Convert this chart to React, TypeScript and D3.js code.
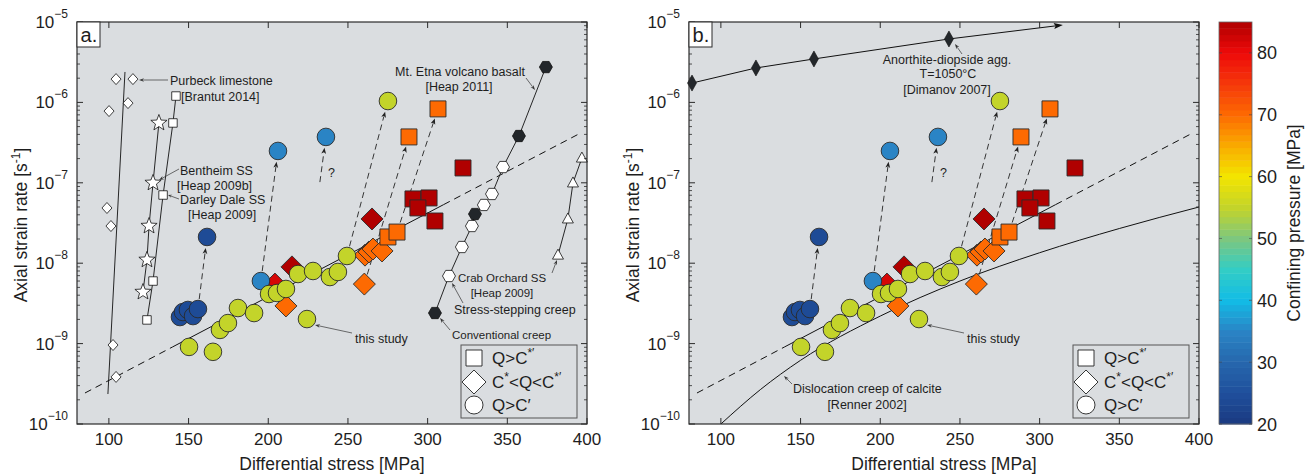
import React from 'react';
import * as d3 from 'd3';

// ---------- axes / ticks ----------
const X_DOMAIN: [number, number] = [80, 400];
const Y_DOMAIN: [number, number] = [1e-10, 1e-5];
const xTicks = [100, 150, 200, 250, 300, 350, 400];
const yTickExps = [-5, -6, -7, -8, -9, -10];
const cbTicks = [20, 30, 40, 50, 60, 70, 80];
const CB_DOMAIN: [number, number] = [20, 85];

// ---------- colormap (confining pressure) ----------
const cmapStops = [20, 25, 30, 35, 40, 45, 50, 55, 60, 65, 70, 75, 80, 85];
const cmapColors = ['#1b3a80', '#1f4f9c', '#2667ad', '#2a84c5', '#12bce6', '#33cdc5', '#7ec77e', '#c3d42a', '#f3e500', '#f9ab00', '#fd6a02', '#f5380a', '#ee0a0a', '#b00000'];

// ---------- this study: [stress MPa, strain rate 1/s, confining pressure MPa] ----------
const circlePts: [number, number, number][] = [
  [144.6, 2.14e-9, 24], [146.5, 2.47e-9, 24], [149.6, 2.62e-9, 24], [152.8, 2.2e-9, 24], [155.9, 2.69e-9, 24], [161.6, 2.12e-8, 24],
  [195.4, 6.0e-9, 35], [206.1, 2.49e-7, 35], [236.2, 3.72e-7, 35],
  [150.3, 9.1e-10, 55], [165.3, 7.9e-10, 55], [169.7, 1.48e-9, 55], [174.7, 1.8e-9, 55], [181.0, 2.77e-9, 55], [191.1, 2.4e-9, 55],
  [200.5, 4.14e-9, 55], [205.5, 4.26e-9, 55], [211.1, 4.78e-9, 55], [218.7, 7.34e-9, 55], [228.1, 8.0e-9, 55], [224.3, 2.02e-9, 55],
  [238.7, 6.73e-9, 55], [243.7, 7.78e-9, 55], [249.4, 1.23e-8, 55], [275.1, 1.04e-6, 55],
];
const diamondPts: [number, number, number][] = [
  [204.2, 5.5e-9, 82], [214.9, 9.0e-9, 85], [265.1, 3.55e-8, 85],
  [211.1, 2.94e-9, 70], [260.3, 5.5e-9, 70], [260.7, 1.26e-8, 70], [263.2, 1.38e-8, 70], [265.7, 1.5e-8, 70], [271.4, 1.42e-8, 70],
];
const squarePts: [number, number, number][] = [
  [275.1, 2.12e-8, 70], [280.8, 2.44e-8, 70], [288.3, 3.72e-7, 70], [306.5, 8.3e-7, 70],
  [290.8, 6.3e-8, 85], [300.9, 6.48e-8, 85], [293.9, 4.87e-8, 85], [304.6, 3.35e-8, 85], [322.2, 1.53e-7, 85],
];
// dashed arrows: [fromStress, fromRate, toStress, toRate, targetShape]
const studyArrows: [number, number, number, number, string][] = [
  [155.9, 2.69e-9, 161.6, 2.12e-8, 'c'],
  [195.4, 6.0e-9, 206.1, 2.49e-7, 'c'],
  [232.4, 1.02e-7, 236.2, 3.72e-7, 'c'],
  [249.4, 1.23e-8, 275.1, 1.04e-6, 'c'],
  [260.3, 5.5e-9, 288.3, 3.72e-7, 's'],
  [280.8, 2.44e-8, 306.5, 8.3e-7, 's'],
];
// fit through this study
const fitDashLow: [number, number][] = [[85, 2.43e-10], [140, 9.1e-10]];
const fitSolid: [number, number][] = [[140, 9.1e-10], [310, 5.35e-8]];
const fitDashHigh: [number, number][] = [[310, 5.35e-8], [396, 4.16e-7]];

// ---------- panel a: other studies ----------
const purbeckDiamonds: [number, number][] = [[104.5, 1.95e-6], [115.1, 1.95e-6], [112.0, 9.8e-7], [100.1, 7.8e-7], [98.8, 4.86e-8], [101.3, 2.9e-8], [102.6, 9.6e-10], [104.5, 3.85e-10]];
const purbeckLine: [number, number][] = [[99.4, 2.36e-10], [110.1, 2.39e-6]];
const bentheimStars: [number, number][] = [[121.4, 4.38e-9], [123.9, 1.1e-8], [125.2, 2.9e-8], [127.7, 9.96e-8], [131.4, 5.55e-7]];
const darleySquares: [number, number][] = [[123.9, 1.97e-9], [127.7, 6.0e-9], [134.0, 7.05e-8], [140.2, 5.55e-7], [142.1, 1.2e-6]];
const etnaConventional: [number, number][] = [[304.6, 2.4e-9], [329.7, 4.09e-8], [357.3, 3.82e-7], [374.2, 2.75e-6]];
const etnaStepping: [number, number][] = [[313.4, 6.93e-9], [321.5, 1.59e-8], [327.8, 2.9e-8], [335.3, 5.3e-8], [340.4, 7.26e-8], [347.3, 1.57e-7]];
const crabTriangles: [number, number][] = [[381.8, 1.26e-8], [388.0, 3.55e-8], [391.2, 9.96e-8], [396.8, 2.03e-7]];

// ---------- panel b: other studies ----------
const anorthiteDiamonds: [number, number][] = [[81.9, 1.74e-6], [122.0, 2.68e-6], [158.4, 3.47e-6], [243.1, 6.15e-6]];
const anorthiteArrowEnd: [number, number] = [314.6, 9.18e-6];
const rennerCurve: [number, number][] = [[100, 1.0e-10], [125, 2.7e-10], [150, 6.2e-10], [200, 2.2e-9], [250, 6.0e-9], [300, 1.35e-8], [350, 2.7e-8], [400, 5.0e-8]];

// ---------- layout ----------
const W = 510, H = 402, TOP = 22;
const PANEL_A_X = 77, PANEL_B_X = 689;
const BG = '#dadde0';
const FONT = '"Liberation Sans", Arial, Helvetica, sans-serif';
const TXT = '#1e1e1e';

const color = d3.scaleLinear<string>().domain(cmapStops).range(cmapColors).interpolate(d3.interpolateRgb).clamp(true);

const sqPath = (s: number) => `M${-s / 2},${-s / 2}h${s}v${s}h${-s}Z`;
const diaPath = (w: number, h: number) => `M0,${-h}L${w},0L0,${h}L${-w},0Z`;
const hexPath = (r: number) => 'M' + d3.range(6).map(i => `${(r * Math.cos(i * Math.PI / 3)).toFixed(2)},${(r * Math.sin(i * Math.PI / 3)).toFixed(2)}`).join('L') + 'Z';
const starPath = (ro: number, ri: number) => 'M' + d3.range(10).map(i => {
  const a = -Math.PI / 2 + i * Math.PI / 5; const r = i % 2 ? ri : ro;
  return `${(r * Math.cos(a)).toFixed(2)},${(r * Math.sin(a)).toFixed(2)}`;
}).join('L') + 'Z';
const triPath = (w: number, h: number) => `M0,${-h * 0.6}L${w / 2},${h * 0.4}L${-w / 2},${h * 0.4}Z`;

function Arrow({ x1, y1, x2, y2, shorten = 0, dash, head = 6, hw = 2.3, stroke = '#222', sw = 0.8 }:
  { x1: number; y1: number; x2: number; y2: number; shorten?: number; dash?: string; head?: number; hw?: number; stroke?: string; sw?: number }) {
  const dx = x2 - x1, dy = y2 - y1, L = Math.hypot(dx, dy);
  const ux = dx / L, uy = dy / L;
  const ex = x2 - ux * shorten, ey = y2 - uy * shorten;
  const bx = ex - ux * head, by = ey - uy * head;
  const px = -uy, py = ux;
  return (
    <g>
      <line x1={x1} y1={y1} x2={bx + ux * 1} y2={by + uy * 1} stroke={stroke} strokeWidth={sw} strokeDasharray={dash} />
      <path d={`M${ex},${ey}L${bx + px * hw},${by + py * hw}L${bx + ux * 1.5},${by + uy * 1.5}L${bx - px * hw},${by - py * hw}Z`} fill={stroke} />
    </g>
  );
}

function Panel({ ox, variant }: { ox: number; variant: 'a' | 'b' }) {
  const x = d3.scaleLinear().domain(X_DOMAIN).range([0, W]);
  const y = d3.scaleLog().domain(Y_DOMAIN).range([H, 0]);
  const line = d3.line<[number, number]>().x(d => x(d[0])).y(d => y(d[1]));
  const curve = d3.line<[number, number]>().x(d => x(d[0])).y(d => y(d[1])).curve(d3.curveMonotoneX);
  const clipId = `clip-${variant}`;

  const minorTicks: number[] = [];
  for (let e = -10; e < -5; e++) for (let k = 2; k <= 9; k++) minorTicks.push(k * Math.pow(10, e));

  const ann = (t: string, tx: number, ty: number, fs = 12.5, anchor = 'start') => (
    <text x={tx} y={ty} fontSize={fs} fill={TXT} textAnchor={anchor}>{t}</text>
  );

  return (
    <g transform={`translate(${ox},${TOP})`}>
      <defs>
        <clipPath id={clipId}><rect width={W} height={H} /></clipPath>
      </defs>
      <rect width={W} height={H} fill={BG} />

      <g clipPath={`url(#${clipId})`} fill="none">
        {/* fit of this study */}
        <path d={line(fitDashLow)!} stroke="#111" strokeWidth={1} strokeDasharray="7,5" />
        <path d={line(fitSolid)!} stroke="#111" strokeWidth={1} />
        <path d={line(fitDashHigh)!} stroke="#111" strokeWidth={1} strokeDasharray="7,5" />
        {variant === 'a' && (
          <g stroke="#111" strokeWidth={0.9}>
            <path d={line(purbeckLine)!} />
            <path d={line(bentheimStars)!} />
            <path d={line(darleySquares)!} />
            <path d={line([...etnaConventional, ...etnaStepping].sort((p, q) => p[0] - q[0]))!} />
            <path d={line(crabTriangles)!} />
          </g>
        )}
        {variant === 'b' && (
          <g stroke="#111" strokeWidth={1}>
            <path d={curve(rennerCurve)!} />
          </g>
        )}
      </g>

      {variant === 'b' && (
        <g>
          <path d={line(anorthiteDiamonds)!} stroke="#111" strokeWidth={1} fill="none" />
          <Arrow x1={x(anorthiteDiamonds[3][0])} y1={y(anorthiteDiamonds[3][1])} x2={x(anorthiteArrowEnd[0])} y2={y(anorthiteArrowEnd[1])} head={9} hw={3} sw={1} stroke="#111" />
          {anorthiteDiamonds.map((d, i) => (
            <path key={i} d={diaPath(4.5, 8)} transform={`translate(${x(d[0])},${y(d[1])})`} fill="#23272b" stroke="#111" strokeWidth={0.6} />
          ))}
        </g>
      )}

      {/* dashed arrows of this study */}
      {studyArrows.map((a, i) => (
        <Arrow key={i} x1={x(a[0])} y1={y(a[1])} x2={x(a[2])} y2={y(a[3])} shorten={a[4] === 'c' ? 11 : 10} dash="6,4" head={6} hw={2.4} sw={0.9} stroke="#222" />
      ))}

      {variant === 'a' && (
        <g stroke="#111" strokeWidth={0.8}>
          {purbeckDiamonds.map((d, i) => <path key={'pd' + i} d={diaPath(5, 5.5)} transform={`translate(${x(d[0])},${y(d[1])})`} fill="#fff" />)}
          {bentheimStars.map((d, i) => <path key={'bs' + i} d={starPath(8.5, 3.6)} transform={`translate(${x(d[0])},${y(d[1])})`} fill="#fff" />)}
          {darleySquares.map((d, i) => <path key={'ds' + i} d={sqPath(8.5)} transform={`translate(${x(d[0])},${y(d[1])})`} fill="#fff" />)}
          {etnaStepping.map((d, i) => <path key={'es' + i} d={hexPath(6.5)} transform={`translate(${x(d[0])},${y(d[1])})`} fill="#fff" />)}
          {etnaConventional.map((d, i) => <path key={'ec' + i} d={hexPath(6.5)} transform={`translate(${x(d[0])},${y(d[1])})`} fill="#22262a" />)}
          {crabTriangles.map((d, i) => <path key={'ct' + i} d={triPath(11, 10)} transform={`translate(${x(d[0])},${y(d[1])})`} fill="#fff" />)}
        </g>
      )}

      {/* this study markers */}
      <g stroke="#2a2a2a" strokeWidth={0.9}>
        {diamondPts.map((d, i) => <path key={'d' + i} d={diaPath(11, 11)} transform={`translate(${x(d[0])},${y(d[1])})`} fill={color(d[2])} />)}
        {circlePts.map((d, i) => <circle key={'c' + i} cx={x(d[0])} cy={y(d[1])} r={8.8} fill={color(d[2])} />)}
        {squarePts.map((d, i) => <path key={'s' + i} d={sqPath(16)} transform={`translate(${x(d[0])},${y(d[1])})`} fill={color(d[2])} />)}
      </g>

      {/* annotations */}
      <g fontFamily={FONT}>
        {ann('?', 251, 155, 12.5)}
        {ann('this study', 278, 321, 12.5)}
        <Arrow x1={275} y1={311} x2={238} y2={303} head={5} hw={1.8} sw={0.7} stroke="#333" />
        {variant === 'a' && (
          <g>
            {ann('Purbeck limestone', 93, 62.5)}
            <Arrow x1={91} y1={58} x2={62} y2={58} head={5} hw={1.8} sw={0.7} stroke="#333" />
            {ann('[Brantut 2014]', 104, 78.5)}
            {ann('Bentheim SS', 103, 152.5)}
            <Arrow x1={102} y1={147} x2={82} y2={158} head={5} hw={1.8} sw={0.7} stroke="#333" />
            {ann('[Heap 2009b]', 100, 167.5)}
            {ann('Darley Dale SS', 103, 181.5)}
            <Arrow x1={102} y1={177} x2={91} y2={173} head={4} hw={1.6} sw={0.7} stroke="#333" />
            {ann('[Heap 2009]', 111, 196.5)}
            {ann('Mt. Etna volcano basalt', 383, 53.5, 12.5, 'middle')}
            {ann('[Heap 2011]', 382, 68.5, 12.5, 'middle')}
            <Arrow x1={449} y1={56} x2={458} y2={68} head={5} hw={1.8} sw={0.7} stroke="#333" />
            {ann('Crab Orchard SS', 381, 260, 11.5)}
            <Arrow x1={475} y1={251} x2={480} y2={238} head={5} hw={1.8} sw={0.7} stroke="#333" />
            {ann('[Heap 2009]', 425, 275, 11.5, 'middle')}
            {ann('Stress-stepping creep', 377, 291.5, 12.5)}
            <Arrow x1={386} y1={281} x2={375} y2={261} head={5} hw={1.8} sw={0.7} stroke="#333" />
            {ann('Conventional creep', 375, 317, 11.5)}
            <Arrow x1={373} y1={308} x2={363} y2={296} head={5} hw={1.8} sw={0.7} stroke="#333" />
          </g>
        )}
        {variant === 'b' && (
          <g>
            {ann('Anorthite-diopside agg.', 258, 41.5, 12.5, 'middle')}
            {ann('T=1050°C', 259, 56, 12.5, 'middle')}
            {ann('[Dimanov 2007]', 258, 71.5, 12.5, 'middle')}
            <Arrow x1={273} y1={32} x2={266} y2={22} head={5} hw={1.8} sw={0.7} stroke="#333" />
            {ann('Dislocation creep of calcite', 104, 371, 12.5)}
            {ann('[Renner 2002]', 178, 387, 12.5, 'middle')}
            <Arrow x1={103} y1={362} x2={95} y2={354} head={5} hw={1.8} sw={0.7} stroke="#333" />
          </g>
        )}
      </g>

      {/* legend */}
      <g fontFamily={FONT}>
        <rect x={384} y={323} width={116} height={73} fill={BG} stroke="#555" strokeWidth={1} />
        <g stroke="#222" strokeWidth={0.9} fill="#fff">
          <path d={sqPath(16)} transform="translate(397,336)" />
          <path d={diaPath(12, 12)} transform="translate(397,360)" />
          <circle cx={397} cy={383} r={9} />
        </g>
        <text x={415} y={342} fontSize={17} fill={TXT}>Q&gt;C<tspan fontSize={12} dy={-7}>*′</tspan></text>
        <text x={415} y={366} fontSize={17} fill={TXT}>C<tspan fontSize={12} dy={-7}>*</tspan><tspan dy={7}>&lt;Q&lt;C</tspan><tspan fontSize={12} dy={-7}>*′</tspan></text>
        <text x={415} y={389} fontSize={17} fill={TXT}>Q&gt;C′</text>
      </g>

      {/* frame and ticks */}
      <g stroke="#2b2b2b" strokeWidth={1}>
        {xTicks.map(t => (
          <g key={t}>
            <line x1={x(t)} x2={x(t)} y1={H} y2={H - 6} />
            <line x1={x(t)} x2={x(t)} y1={0} y2={6} />
          </g>
        ))}
        {yTickExps.map(e => (
          <g key={e}>
            <line x1={0} x2={6} y1={y(Math.pow(10, e))} y2={y(Math.pow(10, e))} />
            <line x1={W} x2={W - 6} y1={y(Math.pow(10, e))} y2={y(Math.pow(10, e))} />
          </g>
        ))}
        {minorTicks.map((v, i) => (
          <g key={i}>
            <line x1={0} x2={3} y1={y(v)} y2={y(v)} strokeWidth={0.8} />
            <line x1={W} x2={W - 3} y1={y(v)} y2={y(v)} strokeWidth={0.8} />
          </g>
        ))}
        <rect width={W} height={H} fill="none" strokeWidth={1.2} />
      </g>

      <g fontFamily={FONT} fill={TXT}>
        {xTicks.map(t => <text key={t} x={x(t)} y={H + 21} fontSize={17} textAnchor="middle">{t}</text>)}
        {yTickExps.map(e => (
          <text key={e} x={-9} y={y(Math.pow(10, e)) + 6} fontSize={17} textAnchor="end">10<tspan fontSize={12} dy={-10}>{'−' + Math.abs(e)}</tspan></text>
        ))}
        <text x={W / 2} y={H + 46} fontSize={17.5} textAnchor="middle">Differential stress [MPa]</text>
        <text transform={`translate(${-50},${H / 2 + 2}) rotate(-90)`} fontSize={17.5} textAnchor="middle">Axial strain rate [s<tspan fontSize={12} dy={-7}>-1</tspan><tspan dy={7}>]</tspan></text>
      </g>

      {/* panel letter */}
      <rect x={0} y={0} width={23} height={25} fill="#fff" stroke="#2b2b2b" strokeWidth={1} />
      <text x={3.5} y={19.5} fontSize={20} fontFamily={FONT} fill={TXT}>{variant}.</text>
    </g>
  );
}

function ColorBar() {
  const x0 = 1219, w = 33;
  const y = d3.scaleLinear().domain(CB_DOMAIN).range([TOP + H, TOP]);
  const n = 64;
  const step = (CB_DOMAIN[1] - CB_DOMAIN[0]) / n;
  const bands = d3.range(n).map(i => CB_DOMAIN[0] + i * step);
  return (
    <g fontFamily={FONT}>
      {bands.map((v, i) => (
        <rect key={i} x={x0} y={y(v + step)} width={w} height={y(v) - y(v + step) + 0.5} fill={color(v + step / 2)} />
      ))}
      <rect x={x0} y={TOP} width={w} height={H} fill="none" stroke="#666" strokeWidth={0.8} />
      {cbTicks.map(t => (
        <g key={t}>
          <line x1={x0} x2={x0 + 3} y1={y(t)} y2={y(t)} stroke="#444" strokeWidth={0.6} />
          <line x1={x0 + w} x2={x0 + w - 3} y1={y(t)} y2={y(t)} stroke="#444" strokeWidth={0.6} />
          <text x={x0 + w + 5} y={y(t) + 6.5} fontSize={18} fill={TXT}>{t}</text>
        </g>
      ))}
      <text transform={`translate(1300,${TOP + H / 2}) rotate(-90)`} fontSize={17.5} textAnchor="middle" fill={TXT}>Confining pressure [MPa]</text>
    </g>
  );
}

export default function App() {
  return (
    <svg width={1307} height={476} style={{ position: 'absolute', left: 0, top: 0, background: '#fff' }} fontFamily={FONT}>
      <Panel ox={PANEL_A_X} variant="a" />
      <Panel ox={PANEL_B_X} variant="b" />
      <ColorBar />
    </svg>
  );
}
